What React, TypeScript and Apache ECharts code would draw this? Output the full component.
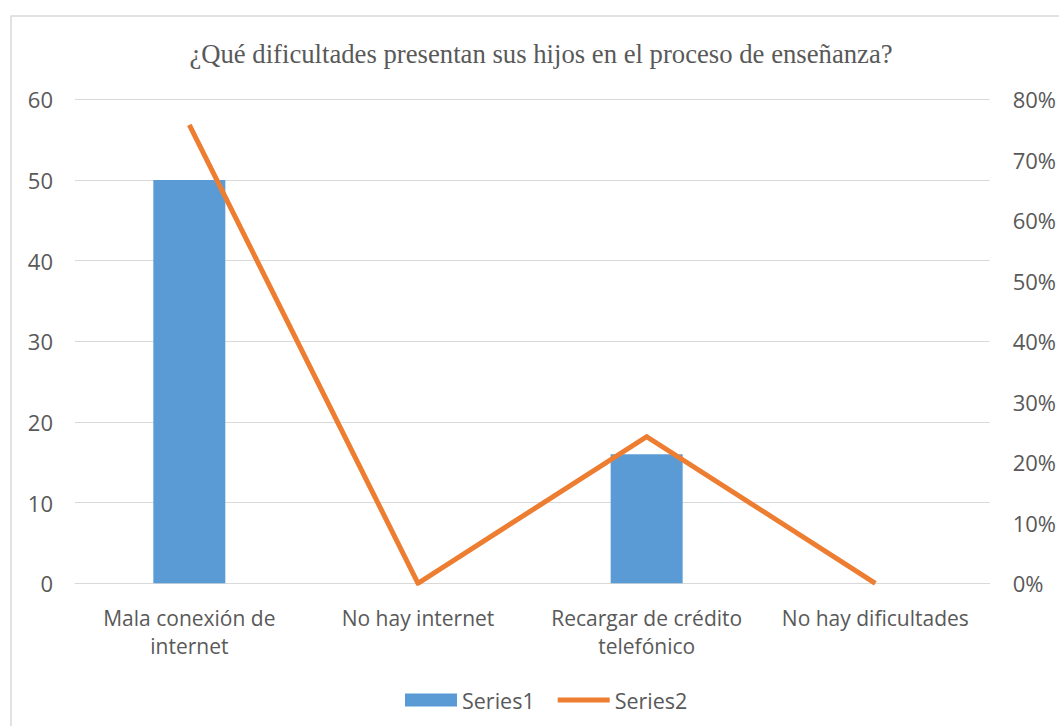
import React, { useEffect, useRef } from "react";
import * as echarts from "echarts";

const categories = [
  "Mala conexión de internet",
  "No hay internet",
  "Recargar de crédito telefónico",
  "No hay dificultades",
];
const series1 = [50, 0, 16, 0];
const series2 = [0.7576, 0, 0.2424, 0];
const leftTicks = { min: 0, max: 60, interval: 10 };
const rightTicks = { min: 0, max: 0.8, interval: 0.1 };
const titleText = "¿Qué dificultades presentan sus hijos en el proceso de enseñanza?";

const wrapLabel = (v: string) =>
  v.replace("conexión de ", "conexión de\n").replace("crédito ", "crédito\n");

const FONT = "Open Sans";
const GREY = "#595959";

export default function App() {
  const ref = useRef<HTMLDivElement>(null);
  useEffect(() => {
    const chart = echarts.init(ref.current!, null, { renderer: "svg" });
    chart.setOption({
      animation: false,
      backgroundColor: "#ffffff",
      graphic: [
        {
          type: "rect",
          shape: { x: 11, y: 16, width: 1070, height: 730 },
          style: { fill: "none", stroke: "#D9D9D9", lineWidth: 1.5 },
          silent: true,
        },
        {
          type: "text",
          x: 541,
          y: 54,
          style: {
            text: titleText,
            fill: GREY,
            font: "26.7px 'Liberation Serif', 'Times New Roman', serif",
            textAlign: "center",
            textVerticalAlign: "middle",
          },
        },
      ],
      legend: {
        left: 400,
        top: 684,
        itemGap: 23,
        itemWidth: 52,
        itemHeight: 13,
        textStyle: { color: GREY, fontFamily: FONT, fontSize: 21.5 },
        data: [
          { name: "Series1", icon: "rect" },
          { name: "Series2", icon: "path://M0,0L52,0L52,5L0,5Z" },
        ],
      },
      grid: { left: 75, right: 69, top: 99.3, bottom: 142.7, containLabel: false },
      xAxis: {
        type: "category",
        data: categories,
        axisTick: { show: false },
        axisLine: { lineStyle: { color: "#D9D9D9", width: 1 } },
        axisLabel: {
          color: GREY,
          fontFamily: FONT,
          fontSize: 21,
          lineHeight: 28,
          margin: 21,
          interval: 0,
          formatter: wrapLabel,
        },
      },
      yAxis: [
        {
          type: "value",
          ...leftTicks,
          axisLine: { show: false },
          axisTick: { show: false },
          splitLine: { lineStyle: { color: "#D9D9D9", width: 1 } },
          axisLabel: { color: GREY, fontFamily: FONT, fontSize: 22, margin: 22 },
        },
        {
          type: "value",
          ...rightTicks,
          axisLine: { show: false },
          axisTick: { show: false },
          splitLine: { show: false },
          axisLabel: {
            color: GREY,
            fontFamily: FONT,
            fontSize: 22,
            margin: 23,
            formatter: (v: number) => Math.round(v * 100) + "%",
          },
        },
      ],
      series: [
        {
          name: "Series1",
          type: "bar",
          data: series1,
          barWidth: 72,
          itemStyle: { color: "#5B9BD5" },
        },
        {
          name: "Series2",
          type: "line",
          yAxisIndex: 1,
          data: series2,
          symbol: "none",
          lineStyle: { color: "#ED7D31", width: 5, cap: "butt", join: "miter" },
          itemStyle: { color: "#ED7D31" },
        },
      ],
    });
    return () => chart.dispose();
  }, []);
  return (
    <div
      ref={ref}
      style={{ position: "fixed", left: 0, top: 0, width: 1059, height: 726 }}
    />
  );
}
